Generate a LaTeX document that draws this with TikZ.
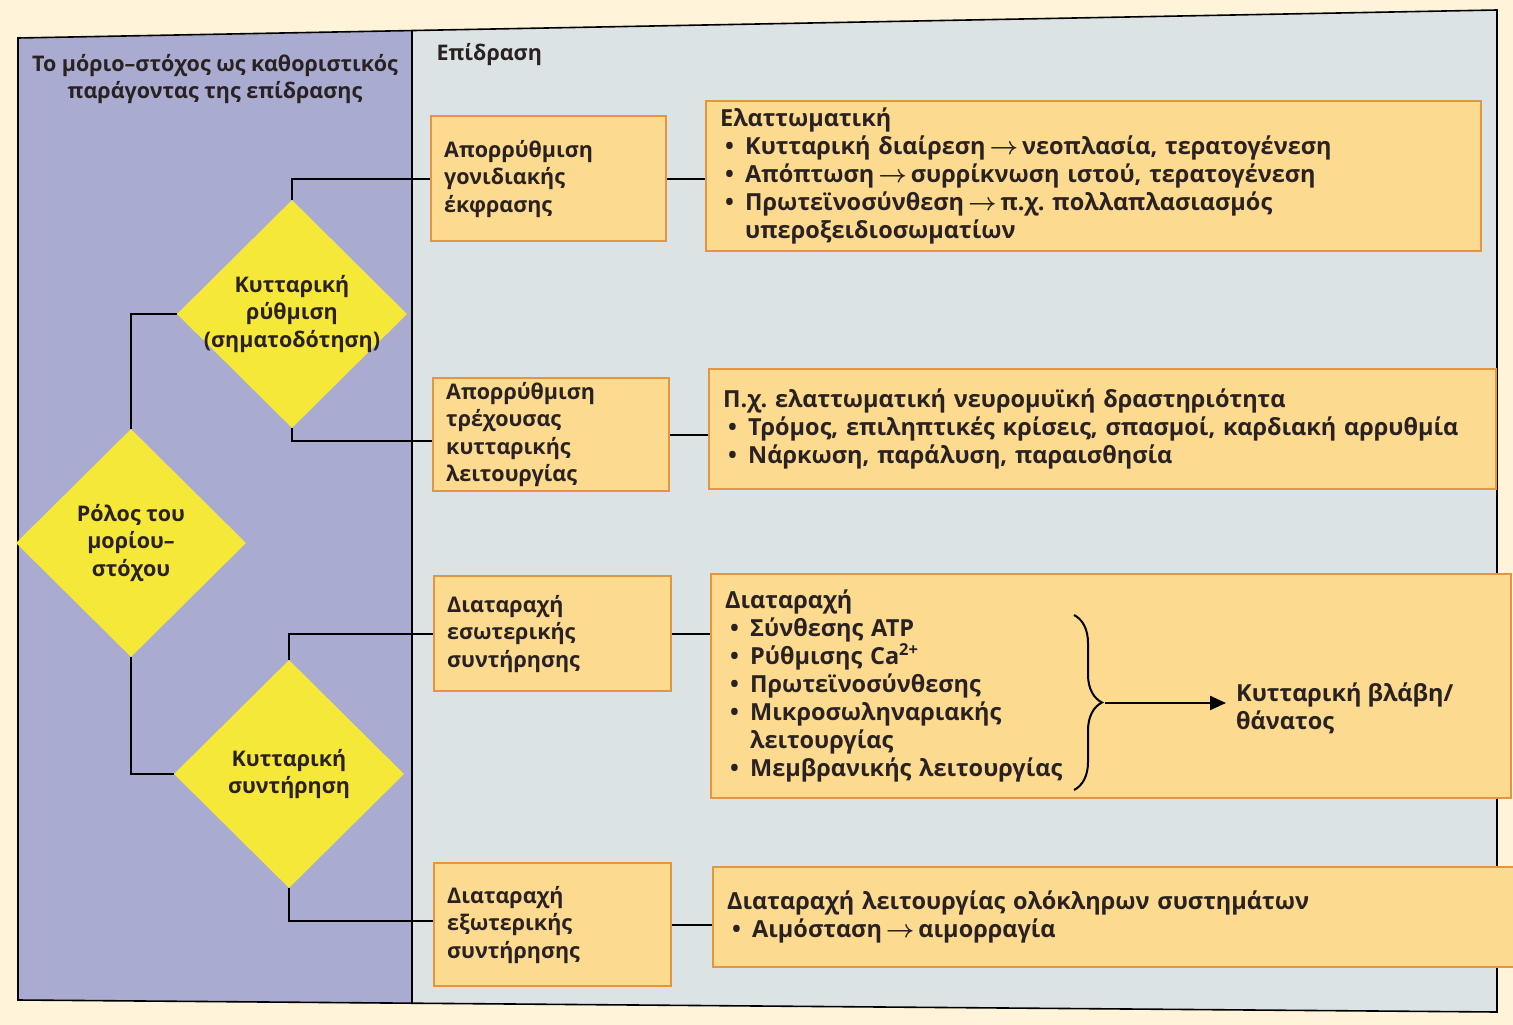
\documentclass[tikz,border=0pt]{standalone}
\usepackage{fontspec}
\setmainfont{Open Sans}
\usetikzlibrary{shapes.geometric,arrows.meta,decorations.pathreplacing}
\definecolor{cream}{HTML}{FFF4DA}
\definecolor{lavender}{HTML}{A9ABD0}
\definecolor{panel}{HTML}{DCE3E4}
\definecolor{boxfill}{HTML}{FCDB90}
\definecolor{boxedge}{HTML}{E39540}
\definecolor{diayellow}{HTML}{F6E839}
\definecolor{ink}{HTML}{2A2222}
\newcommand\bl{\hspace*{5pt}\makebox[20pt][l]{•}}
\newcommand\blcont{\hspace*{25pt}}
\newcommand\ar{\,$\boldsymbol{\rightarrow}$\,}
\usepackage{amsmath}
\frenchspacing
\begin{document}
\begin{tikzpicture}[x=1pt,y=-1pt,
  leftfont/.style={font=\fontsize{21.5}{27.5}\selectfont\bfseries},
  rightfont/.style={font=\fontsize{23.5}{28}\selectfont\bfseries},
  every node/.style={text=ink},
  frameline/.style={draw=black, line width=1.6pt},
  conn/.style={draw=black, line width=2.2pt},
  lbox/.style={leftfont, draw=boxedge, line width=2.4pt, fill=boxfill, anchor=north west,
    inner xsep=13pt, inner ysep=0pt, align=left},
  rbox/.style={rightfont, draw=boxedge, line width=2.4pt, fill=boxfill, anchor=north west,
    inner xsep=14pt, inner ysep=0pt, align=left},
  dia/.style={diamond, fill=diayellow, minimum width=230pt, minimum height=228pt, inner sep=0pt},
  dtext/.style={leftfont, align=center, inner sep=0pt},
]
\useasboundingbox (0,0) rectangle (1513,1025);
\fill[cream] (0,0) rectangle (1513,1025);

% panels of the page
\fill[panel] (412,31) -- (1497,10) -- (1497,1012) -- (412,1004) -- cycle;
\fill[lavender] (18,38) -- (412,31) -- (412,1004) -- (18,1000) -- cycle;
\draw[frameline] (18,38) -- (1497,10) -- (1497,1012) -- (18,1000) -- cycle;
\draw[frameline] (412,31) -- (412,1004);

% column headings
\node[leftfont, align=center] (h1) at (215,79) {Το μόριο–στόχος ως καθοριστικός\\παράγοντας της επίδρασης};
\node[leftfont, anchor=west] (h2) at (433,55) {Επίδραση};

% decision diamonds
\node[dia] (d1) at (292,314) {};
\node[dtext] at (d1) {Κυτταρική\\ρύθμιση\\(σηματοδότηση)};
\node[dia] (d0) at (131,543) {};
\node[dtext] at (d0) {Ρόλος του\\μορίου–\\στόχου};
\node[dia] (d2) at (289,774) {};
\node[dtext] at (d2) {Κυτταρική\\συντήρηση};

% mechanism boxes
\node[lbox, minimum width=235pt, minimum height=125pt, text width=209pt] (g1) at (430,115)
  {Απορρύθμιση\\γονιδιακής\\έκφρασης};
\node[lbox, minimum width=236pt, minimum height=113pt, text width=210pt] (g2) at (432,377)
  {Απορρύθμιση\\τρέχουσας\\κυτταρικής\\λειτουργίας};
\node[lbox, minimum width=237pt, minimum height=115pt, text width=211pt] (g3) at (433,575)
  {Διαταραχή\\εσωτερικής\\συντήρησης};
\node[lbox, minimum width=237pt, minimum height=123pt, text width=211pt] (g4) at (433,862)
  {Διαταραχή\\εξωτερικής\\συντήρησης};

% effect boxes
\node[rbox, minimum width=775pt, minimum height=150pt, text width=747pt] (r1) at (705,100)
  {Ελαττωματική\\
   \bl Κυτταρική διαίρεση\ar νεοπλασία, τερατογένεση\\
   \bl Απόπτωση\ar συρρίκνωση ιστού, τερατογένεση\\
   \bl Πρωτεϊνοσύνθεση\ar π.χ. πολλαπλασιασμός\\
   \blcont υπεροξειδιοσωματίων};
\node[rbox, minimum width=787pt, minimum height=120pt, text width=759pt] (r2) at (708,368)
  {Π.χ. ελαττωματική νευρομυϊκή δραστηριότητα\\
   \bl Τρόμος, επιληπτικές κρίσεις, σπασμοί, καρδιακή αρρυθμία\\
   \bl Νάρκωση, παράλυση, παραισθησία};
\node[rbox, minimum width=800pt, minimum height=224pt, text width=772pt] (r3) at (710,573)
  {Διαταραχή\\
   \bl Σύνθεσης ATP\\
   \bl Ρύθμισης Ca\textsuperscript{2+}\\
   \bl Πρωτεϊνοσύνθεσης\\
   \bl Μικροσωληναριακής\\
   \blcont λειτουργίας\\
   \bl Μεμβρανικής λειτουργίας};
\node[rbox, minimum width=815pt, minimum height=100pt, text width=787pt] (r4) at (712,866)
  {Διαταραχή λειτουργίας ολόκληρων συστημάτων\\
   \bl Αιμόσταση\ar αιμορραγία};

% outcome of the internal disturbances
\draw[line width=2pt, decorate, decoration={brace, amplitude=28pt, aspect=0.5}]
  (1074,615) -- (1074,790);
\coordinate (bt) at (1105,703);
\node[rightfont, anchor=west, align=left, inner sep=0pt] (res) at (1236,708) {Κυτταρική βλάβη/\\θάνατος};
\draw[conn, -{Triangle[length=16pt,width=14pt]}] (bt) -- ([xshift=-10pt]res.west |- bt);

% connectors
\draw[conn] (d0.north) |- (d1.west);
\draw[conn] (d0.south) |- (d2.west);
\draw[conn] (d1.north) |- (g1.west);
\draw[conn] (d1.south) |- ([yshift=-6pt]g2.west);
\draw[conn] (d2.north) |- (g3.west);
\draw[conn] (d2.south) |- ([yshift=4pt]g4.west);
\draw[conn] (g1.east) -- (g1.east -| r1.west);
\draw[conn] (g2.east) -- (g2.east -| r2.west);
\draw[conn] (g3.east) -- (g3.east -| r3.west);
\draw[conn] (g4.east) -- (g4.east -| r4.west);
\end{tikzpicture}
\end{document}
